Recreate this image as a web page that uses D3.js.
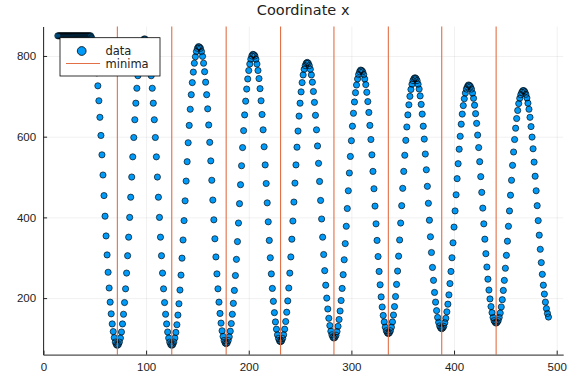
<!DOCTYPE html>
<html>
<head>
<meta charset="utf-8">
<style>
  body { margin: 0; background: #fff; }
  svg { font-family: "DejaVu Sans", sans-serif; }
  .grid line { stroke: #000; stroke-opacity: 0.1; stroke-width: 0.6; }
  .grid .domain { display: none; }
  .axis .domain { stroke: #222; stroke-width: 1; }
  .axis .tick line { stroke: #222; stroke-width: 1; }
  .axis .tick text { fill: #222; font-size: 11.5px; }
</style>
</head>
<body>
<svg class="chart" width="576" height="384"></svg>
<script src="https://d3js.org/d3.v7.min.js"></script>
<script>
  // sample index of the first value
  var xStart = 14;

  // coordinate x, one value per sample
  var coordX = [
    850, 850, 850, 850, 850, 850, 850, 850, 850, 850, 850, 850, 850, 850, 850, 850,
    850, 850, 850, 850, 850, 850, 850, 850, 850, 850, 850, 850, 850, 850, 850, 850,
    850, 845, 837, 825, 807, 785, 758, 726, 689, 648, 603, 555, 505, 454, 403, 354,
    307, 264, 225, 190, 161, 136, 117, 102, 91, 85,
    83, 85, 91, 101, 116, 136, 160, 189, 223, 262, 305, 351, 400, 450, 500, 550,
    598, 642, 683, 720, 751, 778, 800, 817, 829, 837, 842,
    842, 837, 829, 817, 800, 778, 751, 720, 683, 642, 598, 550, 500, 450, 400, 351,
    305, 262, 223, 189, 160, 136, 116, 101, 91, 85,
    83, 85, 91, 101, 115, 134, 158, 186, 220, 257, 299, 344, 392, 441, 490, 538,
    585, 628, 668, 704, 734, 760, 782, 798, 811, 819, 823,
    822, 819, 811, 799, 782, 761, 735, 704, 669, 629, 586, 540, 492, 443, 394, 347,
    302, 260, 223, 190, 162, 138, 119, 105, 95, 89,
    87, 89, 95, 104, 118, 137, 160, 187, 219, 256, 296, 340, 386, 434, 481, 528,
    573, 615, 654, 688, 718, 743, 764, 780, 792, 800, 804,
    803, 800, 792, 780, 764, 744, 719, 689, 655, 617, 575, 530, 484, 436, 389, 343,
    300, 260, 224, 192, 164, 141, 123, 109, 100, 94,
    92, 94, 100, 109, 123, 142, 165, 193, 225, 262, 302, 346, 391, 438, 485, 530,
    574, 614, 651, 683, 711, 734, 753, 767, 776, 782, 784,
    782, 776, 767, 753, 735, 712, 685, 653, 617, 577, 534, 489, 442, 396, 351, 308,
    268, 232, 200, 173, 150, 132, 118, 109, 103,
    101, 103, 108, 117, 130, 147, 168, 194, 224, 258, 295, 335, 378, 422, 466, 510,
    551, 590, 626, 658, 686, 709, 728, 743, 754, 761, 765,
    764, 761, 754, 743, 729, 710, 687, 660, 628, 593, 555, 514, 471, 428, 384, 343,
    303, 266, 233, 203, 178, 157, 141, 128, 119, 114,
    112, 114, 119, 128, 141, 158, 179, 204, 234, 267, 304, 344, 386, 429, 472, 514,
    554, 591, 624, 654, 679, 700, 717, 730, 739, 744, 746,
    744, 739, 730, 718, 701, 680, 656, 626, 594, 557, 518, 477, 435, 393, 352, 313,
    276, 244, 214, 190, 169, 152, 140, 131, 126,
    124, 126, 130, 139, 150, 166, 185, 208, 236, 266, 300, 337, 376, 416, 456, 496,
    533, 569, 601, 631, 656, 677, 694, 708, 718, 724, 728,
    727, 724, 718, 708, 695, 678, 657, 633, 604, 573, 538, 501, 462, 423, 384, 346,
    310, 277, 247, 220, 198, 179, 164, 152, 144, 140,
    138, 140, 144, 152, 163, 178, 196, 219, 244, 274, 306, 341, 378, 416, 455, 492,
    529, 562, 593, 621, 645, 665, 682, 695, 704, 710, 714,
    714, 711, 705, 696, 683, 668, 648, 625, 599, 570, 537, 502, 466, 429, 392, 356,
    321, 288, 259, 232, 210, 190, 174, 162, 153
  ];

  // positions of the minima
  var minima = [72, 125, 178, 231, 283, 336, 388, 441];

  var xTicks = [0, 100, 200, 300, 400, 500];
  var yTicks = [200, 400, 600, 800];
  var seriesNames = ["data", "minima"];
  var title = "Coordinate x";

  var blue = "#009af9";
  var orange = "#e26f46";

  var plotLeft = 43.1, plotRight = 563.2, plotTop = 26.5, plotBottom = 354.6;

  var points = coordX.map(function(v, i) { return {x: xStart + i, y: v}; });

  // same 3% padding on each side as the original plot
  function widen(ext) {
    var pad = (ext[1] - ext[0]) * 0.03;
    return [ext[0] - pad, ext[1] + pad];
  }

  var xScale = d3.scaleLinear()
    .domain(widen(d3.extent(points, function(d) { return d.x; })))
    .range([plotLeft, plotRight]);
  var yScale = d3.scaleLinear()
    .domain(widen(d3.extent(coordX)))
    .range([plotBottom, plotTop]);

  var chart = d3.select(".chart");

  chart.append("rect")
    .attr("width", 576).attr("height", 384).attr("fill", "#fff");

  // grid
  chart.append("g")
    .attr("class", "grid")
    .attr("transform", "translate(0," + plotBottom + ")")
    .call(d3.axisBottom(xScale).tickValues(xTicks).tickSize(-(plotBottom - plotTop)).tickFormat(""));
  chart.append("g")
    .attr("class", "grid")
    .attr("transform", "translate(" + plotLeft + ",0)")
    .call(d3.axisLeft(yScale).tickValues(yTicks).tickSize(-(plotRight - plotLeft)).tickFormat(""));

  // data: fills first, then all outlines on top (dense runs turn dark)
  var dots = chart.append("g");
  dots.selectAll("circle.fill")
      .data(points)
    .enter().append("circle")
      .attr("class", "fill")
      .attr("cx", function(d) { return xScale(d.x); })
      .attr("cy", function(d) { return yScale(d.y); })
      .attr("r", 3.1)
      .attr("fill", blue);
  dots.selectAll("circle.edge")
      .data(points)
    .enter().append("circle")
      .attr("class", "edge")
      .attr("cx", function(d) { return xScale(d.x); })
      .attr("cy", function(d) { return yScale(d.y); })
      .attr("r", 3.1)
      .attr("fill", "none")
      .attr("stroke", "#000")
      .attr("stroke-opacity", 0.8)
      .attr("stroke-width", 0.8);

  // minima
  chart.append("g").selectAll("line")
      .data(minima)
    .enter().append("line")
      .attr("x1", function(d) { return xScale(d); })
      .attr("x2", function(d) { return xScale(d); })
      .attr("y1", plotTop)
      .attr("y2", plotBottom)
      .attr("stroke", orange)
      .attr("stroke-width", 1.1);

  // axes
  chart.append("g")
    .attr("class", "axis")
    .attr("transform", "translate(0," + plotBottom + ")")
    .call(d3.axisBottom(xScale).tickValues(xTicks).tickSizeInner(-4).tickSizeOuter(0).tickPadding(8));
  chart.append("g")
    .attr("class", "axis")
    .attr("transform", "translate(" + plotLeft + ",0)")
    .call(d3.axisLeft(yScale).tickValues(yTicks).tickSizeInner(-4).tickSizeOuter(0).tickPadding(7));

  // legend
  var legend = chart.append("g");
  legend.append("rect")
    .attr("x", 60).attr("y", 37.7).attr("width", 100).attr("height", 38.3)
    .attr("fill", "#fff").attr("stroke", "#000").attr("stroke-width", 0.8);
  legend.append("circle")
    .attr("cx", 81.7).attr("cy", 51).attr("r", 4.4)
    .attr("fill", blue).attr("stroke", "#000").attr("stroke-width", 0.8);
  legend.append("line")
    .attr("x1", 66).attr("x2", 100).attr("y1", 63.5).attr("y2", 63.5)
    .attr("stroke", orange).attr("stroke-width", 1.1);
  legend.selectAll("text")
      .data(seriesNames)
    .enter().append("text")
      .attr("x", 105.5)
      .attr("y", function(d, i) { return 55 + i * 12.8; })
      .attr("font-size", "11.5px")
      .attr("fill", "#222")
      .text(function(d) { return d; });

  chart.append("text")
    .attr("x", (plotLeft + plotRight) / 2)
    .attr("y", 15)
    .attr("text-anchor", "middle")
    .attr("font-size", "14.5px")
    .attr("fill", "#222")
    .text(title);
</script>
</body>
</html>
